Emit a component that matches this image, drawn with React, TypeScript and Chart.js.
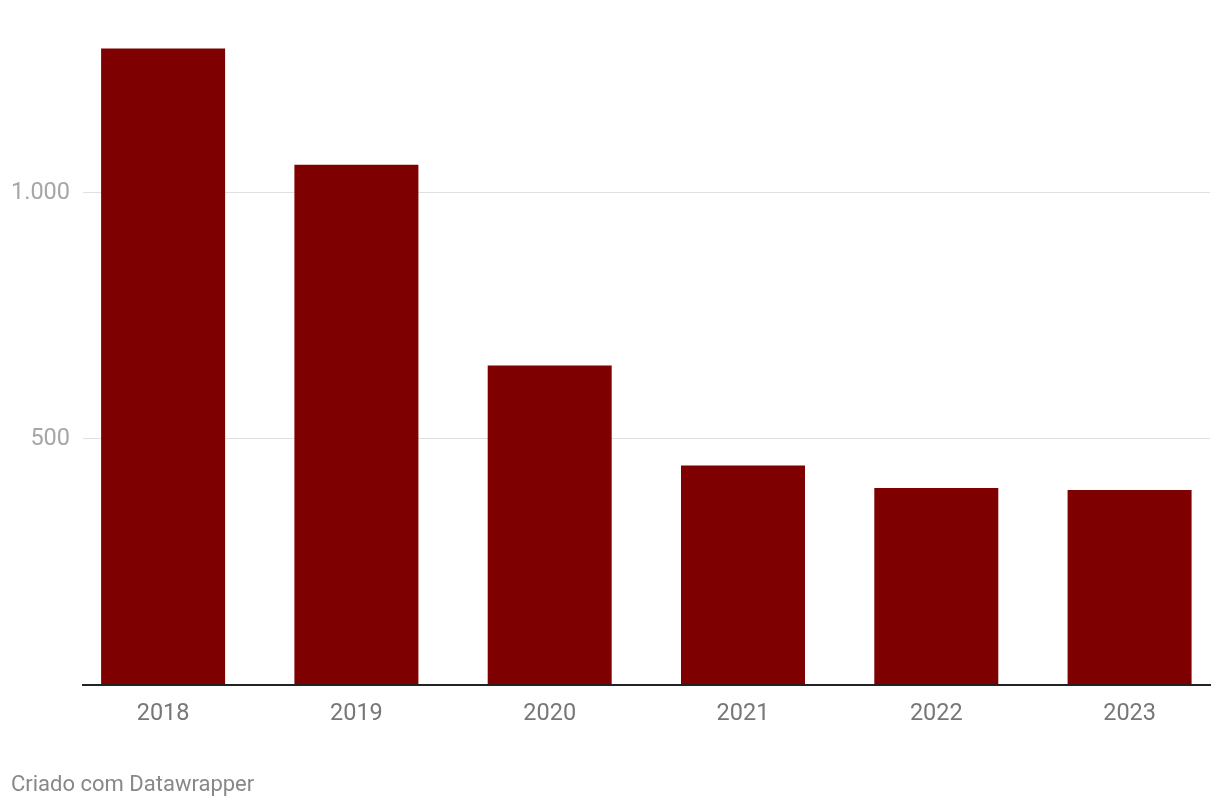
import React, { useEffect, useRef } from "react";
import { Chart, registerables } from "chart.js";

Chart.register(...registerables);

const years = [2018, 2019, 2020, 2021, 2022, 2023];
const values = [1293, 1057, 649, 446, 400, 396];
const yTicks = [500, 1000];
const yTickLabels = ["500", "1.000"];
const footerText = "Criado com Datawrapper";

export default function App() {
  const ref = useRef<HTMLCanvasElement | null>(null);

  useEffect(() => {
    if (!ref.current) return;
    const chart = new Chart(ref.current, {
      type: "bar",
      data: {
        datasets: [
          {
            data: years.map((y, i) => ({ x: y, y: values[i] })),
            backgroundColor: "#7f0000",
            borderWidth: 0,
            categoryPercentage: 0.6415,
            barPercentage: 1,
          },
        ],
      },
      options: {
        responsive: false,
        animation: false,
        events: [],
        layout: { padding: { top: 45, right: 10, bottom: 0, left: 0 } },
        plugins: {
          legend: { display: false },
          tooltip: { enabled: false },
          title: { display: false },
        },
        scales: {
          x: {
            type: "linear",
            offset: false,
            min: 2017.5856,
            max: 2023.416,
            afterBuildTicks: (axis: any) => {
              axis.ticks = years.map((v) => ({ value: v }));
            },
            afterFit: (axis: any) => {
              axis.height = 123;
            },
            grid: { display: false, drawTicks: false, offset: false },
            border: { display: true, color: "#222222", width: 2, z: 1 },
            ticks: {
              padding: 15,
              autoSkip: false,
              maxRotation: 0,
              color: "#777777",
              font: { family: "Roboto", size: 23.5 },
              callback: (v: any) => String(v),
            },
          },
          y: {
            min: 0,
            max: 1300,
            afterBuildTicks: (axis: any) => {
              axis.ticks = yTicks.map((v) => ({ value: v }));
            },
            afterFit: (axis: any) => {
              axis.width = 83;
            },
            grid: { color: "#e0e0e0", lineWidth: 1, drawTicks: false },
            border: { display: false },
            ticks: {
              padding: 13,
              color: "#a6a6a6",
              font: { family: "Roboto", size: 23.5 },
              callback: (v: any) => {
                const idx = yTicks.indexOf(Number(v));
                return idx >= 0 ? yTickLabels[idx] : "";
              },
            },
          },
        },
      },
    });
    return () => chart.destroy();
  }, []);

  return (
    <div
      style={{
        position: "absolute",
        left: 0,
        top: 0,
        width: 1220,
        height: 808,
        overflow: "hidden",
        background: "#ffffff",
      }}
    >
      <canvas ref={ref} width={1220} height={808} style={{ display: "block" }} />
      <div
        style={{
          position: "absolute",
          left: 11,
          top: 771,
          fontFamily: "Roboto",
          fontSize: 22,
          lineHeight: "26px",
          color: "#888888",
          whiteSpace: "nowrap",
        }}
      >
        {footerText}
      </div>
    </div>
  );
}
